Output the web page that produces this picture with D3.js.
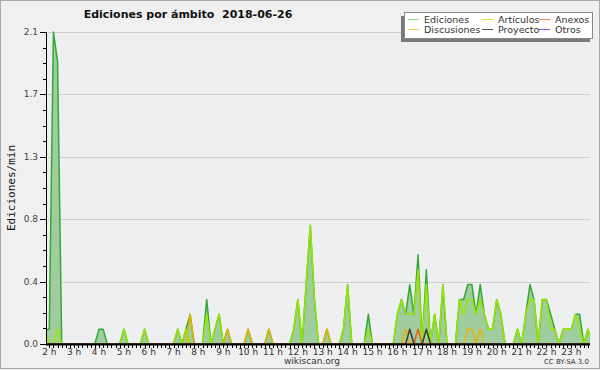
<!DOCTYPE html>
<html>
<head>
<meta charset="utf-8">
<script src="https://cdn.jsdelivr.net/npm/d3@7"></script>
<style>
  body { margin: 0; background: #f0f0f0; }
  svg { display: block; }
</style>
</head>
<body>
<svg width="600" height="370"></svg>
<script>
// bins of 10 minutes, first one at 1:50
var firstBin = 110;
var binSize = 10;
var hours = [2, 3, 4, 5, 6, 7, 8, 9, 10, 11, 12, 13, 14, 15, 16, 17, 18, 19, 20, 21, 22, 23];
var yTicks = [0, 0.42, 0.84, 1.26, 1.68, 2.1];

var ediciones = [0.1,
  0.1, 2.1, 1.9, 0, 0, 0,
  0, 0, 0, 0, 0, 0,
  0.1, 0.1, 0, 0, 0, 0,
  0.1, 0, 0, 0, 0, 0.1,
  0, 0, 0, 0, 0, 0,
  0, 0.1, 0, 0.1, 0.2, 0,
  0, 0, 0.3, 0, 0.1, 0.2,
  0, 0.1, 0, 0, 0, 0,
  0.1, 0, 0, 0, 0, 0.1,
  0, 0, 0, 0, 0, 0.1,
  0.3, 0, 0.4, 0.8, 0.3, 0,
  0, 0.1, 0, 0, 0, 0.1,
  0.4, 0, 0, 0, 0, 0.2,
  0, 0, 0, 0, 0, 0,
  0.2, 0.3, 0.2, 0.4, 0.2, 0.6,
  0, 0.5, 0, 0.2, 0, 0.4,
  0, 0, 0, 0.3, 0.3, 0.4,
  0.4, 0.2, 0.4, 0.2, 0.1, 0.1,
  0.3, 0.2, 0, 0, 0, 0.1,
  0, 0.2, 0.4, 0.3, 0, 0.3,
  0.3, 0.2, 0.1, 0, 0.1, 0.1,
  0.1, 0.2, 0.2, 0, 0.1, 0];

var articulos = [0.1,
  0, 0, 0.1, 0, 0, 0,
  0, 0, 0, 0, 0, 0,
  0, 0, 0, 0, 0, 0,
  0.1, 0, 0, 0, 0, 0.1,
  0, 0, 0, 0, 0, 0,
  0, 0.1, 0, 0.1, 0, 0,
  0, 0, 0.2, 0, 0.1, 0.2,
  0, 0, 0, 0, 0, 0,
  0, 0, 0, 0, 0, 0,
  0, 0, 0, 0, 0, 0.1,
  0.3, 0, 0.4, 0.8, 0.3, 0,
  0, 0, 0, 0, 0, 0.1,
  0.4, 0, 0, 0, 0, 0.1,
  0, 0, 0, 0, 0, 0,
  0.2, 0.3, 0.2, 0.2, 0.2, 0.5,
  0, 0.4, 0, 0.2, 0, 0.4,
  0, 0, 0, 0.3, 0.2, 0.3,
  0.3, 0.2, 0.3, 0.2, 0.1, 0.1,
  0.3, 0.2, 0, 0, 0, 0.1,
  0, 0.2, 0.3, 0.3, 0, 0.3,
  0.3, 0.1, 0.1, 0, 0.1, 0.1,
  0.1, 0.2, 0.1, 0, 0.1, 0];

var discusiones = [0,
  0, 0, 0, 0, 0, 0,
  0, 0, 0, 0, 0, 0,
  0, 0, 0, 0, 0, 0,
  0, 0, 0, 0, 0, 0,
  0, 0, 0, 0, 0, 0,
  0, 0, 0, 0, 0.2, 0,
  0, 0, 0, 0, 0, 0,
  0, 0.1, 0, 0, 0, 0,
  0.1, 0, 0, 0, 0, 0.1,
  0, 0, 0, 0, 0, 0,
  0, 0, 0, 0, 0, 0,
  0, 0.1, 0, 0, 0, 0,
  0, 0, 0, 0, 0, 0,
  0, 0, 0, 0, 0, 0,
  0, 0, 0.1, 0, 0, 0,
  0, 0, 0, 0, 0, 0,
  0, 0, 0, 0, 0, 0.1,
  0.1, 0, 0.1, 0, 0, 0,
  0, 0, 0, 0, 0, 0,
  0, 0, 0, 0, 0, 0,
  0, 0, 0, 0, 0, 0,
  0, 0, 0, 0, 0, 0];

var anexos = [0,
  0, 0, 0, 0, 0, 0,
  0, 0, 0, 0, 0, 0,
  0, 0, 0, 0, 0, 0,
  0, 0, 0, 0, 0, 0,
  0, 0, 0, 0, 0, 0,
  0, 0, 0, 0, 0, 0,
  0, 0, 0, 0, 0, 0,
  0, 0, 0, 0, 0, 0,
  0, 0, 0, 0, 0, 0,
  0, 0, 0, 0, 0, 0,
  0, 0, 0, 0, 0, 0,
  0, 0, 0, 0, 0, 0,
  0, 0, 0, 0, 0, 0,
  0, 0, 0, 0, 0, 0,
  0, 0, 0, 0, 0, 0.1,
  0, 0, 0, 0, 0, 0,
  0, 0, 0, 0, 0, 0,
  0, 0, 0, 0, 0, 0,
  0, 0, 0, 0, 0, 0,
  0, 0, 0, 0, 0, 0,
  0, 0, 0, 0, 0, 0,
  0, 0, 0, 0, 0, 0];

var proyecto = [0,
  0, 0, 0, 0, 0, 0,
  0, 0, 0, 0, 0, 0,
  0, 0, 0, 0, 0, 0,
  0, 0, 0, 0, 0, 0,
  0, 0, 0, 0, 0, 0,
  0, 0, 0, 0, 0, 0,
  0, 0, 0, 0, 0, 0,
  0, 0, 0, 0, 0, 0,
  0, 0, 0, 0, 0, 0,
  0, 0, 0, 0, 0, 0,
  0, 0, 0, 0, 0, 0,
  0, 0, 0, 0, 0, 0,
  0, 0, 0, 0, 0, 0,
  0, 0, 0, 0, 0, 0,
  0, 0, 0, 0.1, 0, 0,
  0, 0.1, 0, 0, 0, 0,
  0, 0, 0, 0, 0, 0,
  0, 0, 0, 0, 0, 0,
  0, 0, 0, 0, 0, 0,
  0, 0, 0, 0, 0, 0,
  0, 0, 0, 0, 0, 0,
  0, 0, 0, 0, 0, 0];

var otros = ediciones.map(function () { return 0; });

var legendItems = [
  { name: "Ediciones", color: "#8fd88f" },
  { name: "Discusiones", color: "#f5d24a" },
  { name: "Artículos", color: "#c8ef4a" },
  { name: "Proyecto", color: "#555555" },
  { name: "Anexos", color: "#f08050" },
  { name: "Otros", color: "#9a4ee8" }
];

var svg = d3.select("svg");
var plotLeft = 47, plotRight = 590, plotTop = 32, plotBottom = 344;

var x = d3.scaleLinear().domain([114.5, 1425]).range([plotLeft, plotRight]);
var y = d3.scaleLinear().domain([0, 2.1]).range([plotBottom, plotTop]);

// frame
svg.append("rect").attr("x", 0.5).attr("y", 0.5).attr("width", 599).attr("height", 368)
  .attr("fill", "#f0f0f0").attr("stroke", "#a8a8a8");
svg.append("rect").attr("x", plotLeft).attr("y", plotTop).attr("width", plotRight - plotLeft)
  .attr("height", plotBottom - plotTop).attr("fill", "#eeeff1");

// grid
svg.append("g").selectAll("line").data(yTicks.slice(1)).enter().append("line")
  .attr("x1", plotLeft).attr("x2", plotRight)
  .attr("y1", function (d) { return Math.round(y(d)) + 0.5; })
  .attr("y2", function (d) { return Math.round(y(d)) + 0.5; })
  .attr("stroke", "#cfcfcf").attr("stroke-width", 1);

svg.append("clipPath").attr("id", "plot").append("rect")
  .attr("x", plotLeft).attr("y", plotTop - 5).attr("width", plotRight - plotLeft)
  .attr("height", plotBottom - plotTop + 5);

var plot = svg.append("g").attr("clip-path", "url(#plot)");

function t(i) { return firstBin + i * binSize; }

var area = d3.area()
  .x(function (d, i) { return x(t(i)); })
  .y0(plotBottom)
  .y1(function (d) { return y(d); });

var line = d3.line()
  .x(function (d, i) { return x(t(i)); })
  .y(function (d) { return y(d); });

plot.append("path").datum(ediciones).attr("d", area).attr("fill", "#9fcd9f");

var series = [
  { data: otros, color: "#9a4ee8" },
  { data: ediciones, color: "#36a836" },
  { data: articulos, color: "#99e600" },
  { data: discusiones, color: "#e8b400" },
  { data: anexos, color: "#ee5a1a" },
  { data: proyecto, color: "#3a3a3a" }
];

series.forEach(function (s) {
  if (d3.max(s.data) === 0) return;
  plot.append("path").datum(s.data).attr("d", line)
    .attr("fill", "none").attr("stroke", s.color).attr("stroke-width", 1.5)
    .attr("stroke-linejoin", "round");
});

// y axis
var yAxis = svg.append("g");
yAxis.append("line").attr("x1", plotLeft - 0.5).attr("x2", plotLeft - 0.5)
  .attr("y1", plotTop).attr("y2", plotBottom + 1)
  .attr("stroke", "#000");
yAxis.selectAll(".minor").data(d3.range(21)).enter().append("line")
  .attr("x1", plotLeft - 4).attr("x2", plotLeft)
  .attr("y1", function (d) { return Math.round(y(d * 0.105)) + 0.5; })
  .attr("y2", function (d) { return Math.round(y(d * 0.105)) + 0.5; })
  .attr("stroke", "#000");
yAxis.selectAll(".major").data(yTicks).enter().append("line")
  .attr("x1", plotLeft - 7).attr("x2", plotLeft)
  .attr("y1", function (d) { return Math.round(y(d)) + 0.5; })
  .attr("y2", function (d) { return Math.round(y(d)) + 0.5; })
  .attr("stroke", "#000");
yAxis.selectAll("text").data(yTicks).enter().append("text")
  .attr("x", plotLeft - 9).attr("y", function (d) { return y(d) + 3; })
  .attr("text-anchor", "end")
  .style("font", "9px 'DejaVu Sans'").attr("fill", "#444")
  .text(function (d) { return d.toFixed(1); });

svg.append("text")
  .attr("transform", "translate(15," + ((plotTop + plotBottom) / 2) + ") rotate(-90)")
  .attr("text-anchor", "middle")
  .style("font", "11px 'DejaVu Sans Mono'").attr("fill", "#111")
  .text("Ediciones/min");

// x axis
var xAxis = svg.append("g");
xAxis.append("line").attr("x1", plotLeft - 1).attr("x2", plotRight)
  .attr("y1", plotBottom + 0.5).attr("y2", plotBottom + 0.5)
  .attr("stroke", "#000").attr("stroke-width", 2);
xAxis.selectAll(".tick").data(d3.range(120, 1425, 10)).enter().append("line")
  .attr("x1", function (d) { return Math.round(x(d)) + 0.5; })
  .attr("x2", function (d) { return Math.round(x(d)) + 0.5; })
  .attr("y1", plotBottom).attr("y2", plotBottom + 4)
  .attr("stroke", "#000");
xAxis.selectAll("text").data(hours).enter().append("text")
  .attr("x", function (d) { return x(d * 60); })
  .attr("y", plotBottom + 11)
  .attr("text-anchor", "middle")
  .style("font", "9px 'DejaVu Sans'").attr("fill", "#333")
  .text(function (d) { return d + " h"; });

svg.append("text").attr("x", 312).attr("y", 364).attr("text-anchor", "middle")
  .style("font", "9px 'DejaVu Sans'").attr("fill", "#333").text("wikiscan.org");
svg.append("text").attr("x", 589).attr("y", 364).attr("text-anchor", "end")
  .style("font", "7px 'DejaVu Sans'").attr("fill", "#333").text("CC BY-SA 3.0");

// title
svg.append("text").attr("x", 188).attr("y", 18).attr("text-anchor", "middle")
  .style("font", "bold 11px 'DejaVu Sans'").style("white-space", "pre").attr("fill", "#111")
  .text("Ediciones por ámbito  2018-06-26");

// legend
var legend = svg.append("g");
legend.append("rect").attr("x", 401).attr("y", 16).attr("width", 189).attr("height", 26).attr("fill", "#7a7a7a");
legend.append("rect").attr("x", 404.5).attr("y", 12.5).attr("width", 188).attr("height", 26)
  .attr("fill", "#fff").attr("stroke", "#888");
var colX = [408, 482, 539];
var rowY = [19.5, 29.5];
legendItems.forEach(function (d, i) {
  var cx = colX[Math.floor(i / 2)], cy = rowY[i % 2];
  legend.append("line").attr("x1", cx).attr("x2", cx + 11).attr("y1", cy).attr("y2", cy)
    .attr("stroke", d.color).attr("stroke-width", 1);
  legend.append("text").attr("x", cx + 16).attr("y", cy + 3.5)
    .style("font", "9.5px 'DejaVu Sans'").attr("fill", "#333").text(d.name);
});
</script>
</body>
</html>
